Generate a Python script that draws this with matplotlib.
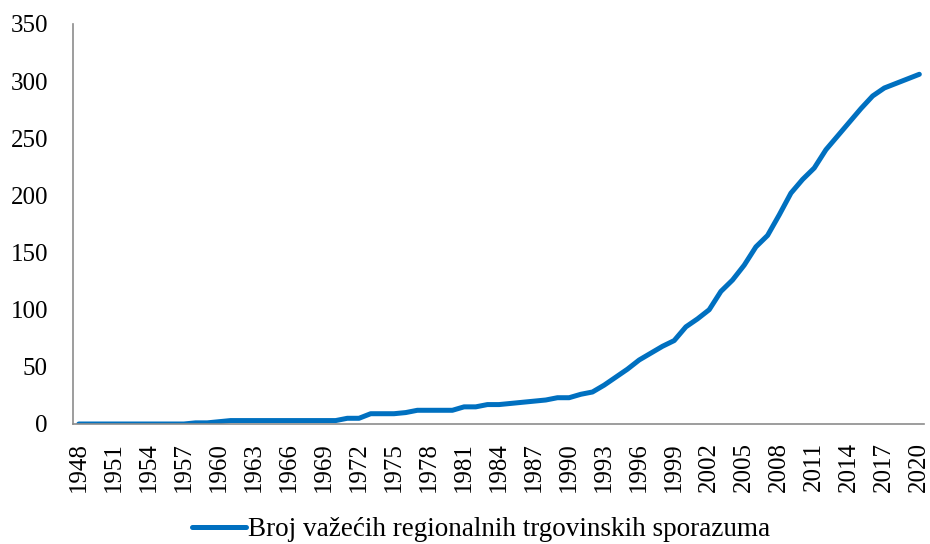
import matplotlib
matplotlib.use("Agg")
import matplotlib.pyplot as plt

# Number of regional trade agreements in force, 1948-2020
years = list(range(1948, 2021))
counts = [
    0, 0, 0, 0, 0, 0, 0, 0, 0, 0,          # 1948-1957
    1, 1, 2, 3, 3, 3, 3, 3, 3, 3,          # 1958-1967
    3, 3, 3, 5, 5, 9, 9, 9, 10, 12,        # 1968-1977
    12, 12, 12, 15, 15, 17, 17, 18, 19, 20,  # 1978-1987
    21, 23, 23, 26, 28, 34, 41, 48, 56, 62,  # 1988-1997
    68, 73, 85, 92, 100, 116, 126, 139, 155, 165,  # 1998-2007
    183, 202, 214, 224, 240, 252, 264, 276, 287, 294,  # 2008-2017
    298, 302, 306,                          # 2018-2020
]
tick_years = list(range(1948, 2021, 3))
y_ticks = [0, 50, 100, 150, 200, 250, 300, 350]
series_label = "Broj važećih regionalnih trgovinskih sporazuma"

plt.rcParams['font.family'] = ['Liberation Serif', 'DejaVu Serif']

fig = plt.figure(figsize=(9.3, 5.44), dpi=100)
ax = fig.add_axes([73 / 930, 1 - 424 / 544, (924 - 73) / 930, 400 / 544])

ax.plot(years, counts, color='#0070C0', linewidth=3.6,
        solid_capstyle='round', label=series_label)

ax.set_xlim(1947.5, 2020.4)
ax.set_ylim(0, 350)
ax.set_yticks(y_ticks)
ax.set_xticks(tick_years)
ax.set_xticklabels([str(y) for y in tick_years], rotation=90)

for side in ['top', 'right']:
    ax.spines[side].set_visible(False)
for side in ['left', 'bottom']:
    ax.spines[side].set_color('#8c8c8c')
    ax.spines[side].set_linewidth(1.2)

ax.tick_params(axis='y', length=0, pad=18, labelsize=18)
ax.tick_params(axis='x', length=0, pad=13, labelsize=18)

fig.legend(loc='center', bbox_to_anchor=(481 / 930, 1 - 530 / 544),
           frameon=False, fontsize=19.5, handlelength=2.0,
           handletextpad=0.1, borderpad=0)

fig.savefig('out.png', dpi=100)
